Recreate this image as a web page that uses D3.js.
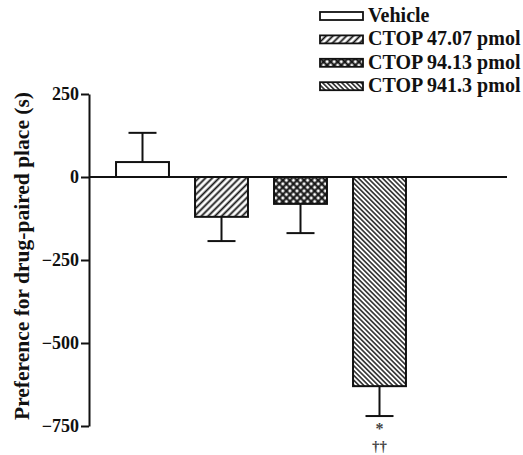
<!DOCTYPE html>
<html lang="en">
  <head>
    <title>CTOP place preference</title>
    <meta charset="utf-8"/>
    <script type="text/javascript" src="https://cdn.jsdelivr.net/npm/d3@7"></script>
    <style>
     body { margin: 0; background: #fff; }
     svg text { font-family: "Liberation Serif", "Times New Roman", serif; font-weight: bold; }
    </style>
  </head>
  <body>
    <script type="text/javascript">
     // data --------------------------------------------------------------------------
     let groups = ["Vehicle", "CTOP 47.07 pmol", "CTOP 94.13 pmol", "CTOP 941.3 pmol"];
     let means  = [45, -120, -81, -630];
     let errs   = [88, 73, 88, 90];
     let fills  = ["none", "url(#hatchA)", "url(#cross)", "url(#hatchB)"];
     let yTicks = [250, 0, -250, -500, -750];

     let w = 523, h = 455;
     let svg = d3.select("body").append("svg")
                 .attr("width", w)
                 .attr("height", h);

     // fill patterns
     let defs = svg.append("defs");
     function hatch(id, gap, sw, angle) {
       let p = defs.append("pattern")
                   .attr("id", id)
                   .attr("patternUnits", "userSpaceOnUse")
                   .attr("width", gap)
                   .attr("height", gap)
                   .attr("patternTransform", "rotate(" + angle + ")");
       p.append("rect").attr("width", gap).attr("height", gap).attr("fill", "#fff");
       p.append("line")
        .attr("x1", gap / 2).attr("x2", gap / 2)
        .attr("y1", 0).attr("y2", gap)
        .attr("stroke", "#111").attr("stroke-width", sw);
     }
     hatch("hatchA", 4.8, 1.8, 45);   // "/" lines
     hatch("hatchB", 3.4, 1.4, -45);  // "\" lines

     let cp = defs.append("pattern")
                  .attr("id", "cross")
                  .attr("patternUnits", "userSpaceOnUse")
                  .attr("width", 5)
                  .attr("height", 5)
                  .attr("patternTransform", "rotate(45)");
     cp.append("rect").attr("width", 5).attr("height", 5).attr("fill", "#fff");
     cp.append("line").attr("x1", 2.5).attr("x2", 2.5).attr("y1", 0).attr("y2", 5)
       .attr("stroke", "#111").attr("stroke-width", 2.1);
     cp.append("line").attr("y1", 2.5).attr("y2", 2.5).attr("x1", 0).attr("x2", 5)
       .attr("stroke", "#111").attr("stroke-width", 2.1);

     // scales
     let x = d3.scaleBand()
               .domain(groups)
               .range([103, 419])
               .paddingInner(0.33)
               .paddingOuter(0.165);
     let y = d3.scaleLinear()
               .domain([-750, 250])
               .range([426, 94]);

     let axisX = 89;

     // y axis
     let yAxis = svg.append("g")
                    .attr("transform", "translate(" + axisX + ",0)")
                    .call(d3.axisLeft(y).tickValues(yTicks).tickSize(8).tickPadding(2).tickSizeOuter(0));
     yAxis.select(".domain").attr("stroke", "#111").attr("stroke-width", 2);
     yAxis.selectAll(".tick line").attr("stroke", "#111").attr("stroke-width", 2);
     yAxis.selectAll(".tick text")
          .attr("font-size", "18px")
          .attr("font-family", "Liberation Serif")
          .attr("font-weight", "bold")
          .attr("fill", "#111");

     // y label
     svg.append("text")
        .attr("transform", "translate(29," + (y(-250) - 4) + ") rotate(-90)")
        .attr("text-anchor", "middle")
        .attr("font-size", "21.5px")
        .attr("fill", "#111")
        .text("Preference for drug-paired place (s)");

     // error bars (drawn first, bar covers the stem)
     let eb = svg.selectAll("g.err")
                 .data(groups)
                 .enter()
                 .append("g")
                 .classed("err", true);
     eb.append("line")
       .attr("x1", d => x(d) + x.bandwidth() / 2)
       .attr("x2", d => x(d) + x.bandwidth() / 2)
       .attr("y1", (d, i) => y(means[i]))
       .attr("y2", (d, i) => y(means[i] + Math.sign(means[i]) * errs[i]))
       .attr("stroke", "#111").attr("stroke-width", 2);
     eb.append("line")
       .attr("x1", d => x(d) + x.bandwidth() / 2 - 14)
       .attr("x2", d => x(d) + x.bandwidth() / 2 + 14)
       .attr("y1", (d, i) => y(means[i] + Math.sign(means[i]) * errs[i]))
       .attr("y2", (d, i) => y(means[i] + Math.sign(means[i]) * errs[i]))
       .attr("stroke", "#111").attr("stroke-width", 2);

     // bars
     svg.selectAll("rect.bar")
        .data(groups)
        .enter()
        .append("rect")
        .classed("bar", true)
        .attr("x", d => x(d))
        .attr("y", (d, i) => y(Math.max(0, means[i])))
        .attr("width", x.bandwidth())
        .attr("height", (d, i) => Math.abs(y(means[i]) - y(0)))
        .attr("fill", (d, i) => fills[i] == "none" ? "#fff" : fills[i])
        .attr("stroke", "#111")
        .attr("stroke-width", 2);

     // zero line
     svg.append("line")
        .attr("x1", axisX).attr("x2", 507)
        .attr("y1", y(0)).attr("y2", y(0))
        .attr("stroke", "#111").attr("stroke-width", 2);

     // significance marks under the last bar
     let last = groups[3];
     let cx = x(last) + x.bandwidth() / 2;
     let lowY = y(means[3] - errs[3]);
     svg.append("text").attr("x", cx).attr("y", lowY + 18)
        .attr("text-anchor", "middle").attr("font-size", "16px").attr("fill", "#444").text("*");
     svg.append("text").attr("x", cx).attr("y", lowY + 35)
        .attr("text-anchor", "middle").attr("font-size", "15px").attr("fill", "#444").text("††");

     // legend
     let leg = svg.selectAll("g.leg")
                  .data(groups)
                  .enter()
                  .append("g")
                  .classed("leg", true)
                  .attr("transform", (d, i) => "translate(320," + (22 + i * 23.4) + ")");
     leg.append("rect")
        .attr("x", 0).attr("y", -10)
        .attr("width", 43).attr("height", 8)
        .attr("fill", (d, i) => fills[i] == "none" ? "#fff" : fills[i])
        .attr("stroke", "#111").attr("stroke-width", 1.8);
     leg.append("text")
        .attr("x", 48).attr("y", 0)
        .attr("font-size", "20px")
        .attr("fill", "#111")
        .text(d => d);
    </script>
  </body>
</html>
